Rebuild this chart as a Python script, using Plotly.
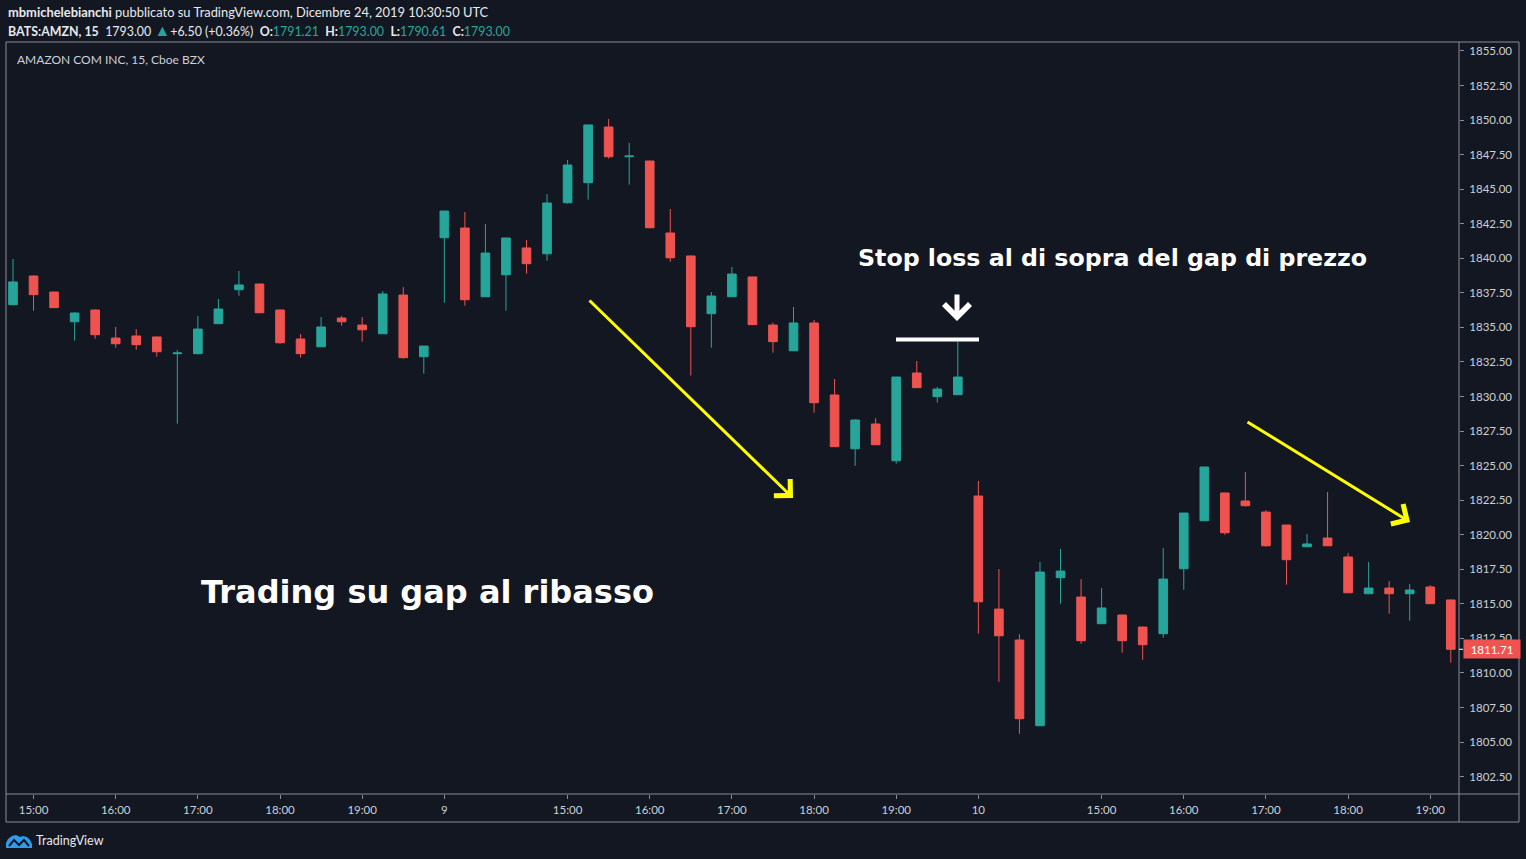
import plotly.graph_objects as go
import pandas as pd

# ---------------- data ----------------
day6 = pd.date_range("2019-12-06 14:45", "2019-12-06 19:45", freq="15min")
day9 = pd.date_range("2019-12-09 13:30", "2019-12-09 19:45", freq="15min")
day10 = pd.date_range("2019-12-10 13:30", "2019-12-10 19:15", freq="15min")
times = [t.strftime("%Y-%m-%d %H:%M") for t in list(day6) + list(day9) + list(day10)]

opens = [
    1836.64, 1838.72, 1837.56, 1835.41, 1836.26, 1834.23, 1834.38, 1834.31, 1833.10, 1833.10,
    1835.27, 1837.73, 1838.14, 1836.26, 1834.16, 1833.60, 1835.68, 1835.17, 1834.54, 1837.34,
    1832.88,
    1841.49, 1842.19, 1837.22, 1838.81, 1840.75, 1840.33, 1844.02, 1845.47, 1849.50, 1847.35,
    1847.04, 1841.83, 1840.17, 1835.99, 1837.22, 1838.65, 1835.17, 1833.31, 1835.32, 1830.11,
    1826.22, 1828.01, 1825.35, 1831.70, 1829.99, 1830.13,
    1822.80, 1814.62, 1812.38, 1806.18, 1816.89, 1815.49, 1813.56, 1814.19, 1813.32, 1812.84,
    1817.54, 1821.01, 1823.02, 1822.44, 1821.64, 1820.70, 1819.13, 1819.76, 1818.39, 1815.73,
    1816.14, 1815.73, 1816.22, 1815.28,
]
highs = [
    1839.95, 1838.75, 1837.58, 1836.10, 1836.28, 1835.03, 1834.88, 1834.33, 1833.36, 1835.82,
    1837.05, 1839.08, 1838.16, 1836.28, 1834.52, 1835.75, 1835.82, 1835.75, 1837.63, 1837.92,
    1833.65,
    1843.42, 1843.35, 1842.48, 1841.47, 1841.32, 1844.65, 1847.11, 1849.65, 1850.08, 1848.34,
    1847.06, 1843.57, 1840.19, 1837.56, 1839.37, 1838.67, 1835.34, 1836.48, 1835.54, 1831.27,
    1828.35, 1828.44, 1831.41, 1832.57, 1830.69, 1833.97,
    1823.89, 1817.52, 1812.81, 1818.02, 1818.97, 1816.79, 1816.14, 1814.21, 1813.34, 1819.04,
    1821.57, 1824.90, 1823.04, 1824.54, 1821.79, 1820.72, 1820.05, 1823.09, 1818.68, 1818.02,
    1816.65, 1816.43, 1816.36, 1815.30,
]
lows = [
    1836.60, 1836.21, 1836.40, 1834.04, 1834.18, 1833.53, 1833.39, 1832.88, 1828.03, 1833.05,
    1835.25, 1837.29, 1836.04, 1833.82, 1832.81, 1833.58, 1835.12, 1833.97, 1834.52, 1832.74,
    1831.65,
    1836.79, 1836.57, 1837.20, 1836.21, 1838.89, 1839.83, 1843.95, 1844.24, 1847.21, 1845.33,
    1842.19, 1839.75, 1831.51, 1833.53, 1837.20, 1835.18, 1833.17, 1833.29, 1828.83, 1826.35,
    1824.99, 1826.49, 1825.14, 1830.62, 1829.55, 1830.11,
    1812.84, 1809.36, 1805.60, 1806.16, 1815.01, 1812.11, 1813.54, 1811.46, 1810.95, 1812.55,
    1816.02, 1820.99, 1820.00, 1822.03, 1819.13, 1816.38, 1819.11, 1819.18, 1815.78, 1815.71,
    1814.28, 1813.78, 1814.99, 1810.74,
]
closes = [
    1838.29, 1837.37, 1836.43, 1836.04, 1834.47, 1833.82, 1833.75, 1833.24, 1833.15, 1834.88,
    1836.33, 1838.07, 1836.06, 1833.89, 1833.10, 1835.03, 1835.41, 1834.83, 1837.42, 1832.81,
    1833.65,
    1843.42, 1837.00, 1840.38, 1841.47, 1839.61, 1844.00, 1846.75, 1849.65, 1847.35, 1847.40,
    1842.21, 1840.04, 1835.05, 1837.27, 1838.86, 1835.20, 1833.97, 1835.32, 1829.55, 1826.37,
    1828.30, 1826.51, 1831.41, 1830.64, 1830.54, 1831.41,
    1815.15, 1812.69, 1806.69, 1817.30, 1817.37, 1812.33, 1814.70, 1812.33, 1812.04, 1816.79,
    1821.57, 1824.90, 1820.14, 1822.10, 1819.20, 1818.19, 1819.33, 1819.20, 1815.80, 1816.14,
    1815.73, 1816.00, 1815.01, 1811.71,
]

tick_times = [
    "2019-12-06 15:00", "2019-12-06 16:00", "2019-12-06 17:00", "2019-12-06 18:00", "2019-12-06 19:00",
    "2019-12-09 13:30", "2019-12-09 15:00", "2019-12-09 16:00", "2019-12-09 17:00", "2019-12-09 18:00",
    "2019-12-09 19:00", "2019-12-10 13:30", "2019-12-10 15:00", "2019-12-10 16:00", "2019-12-10 17:00",
    "2019-12-10 18:00", "2019-12-10 19:00",
]
tick_text = ["15:00", "16:00", "17:00", "18:00", "19:00", "9", "15:00", "16:00", "17:00", "18:00",
             "19:00", "10", "15:00", "16:00", "17:00", "18:00", "19:00"]

price_ticks = [1802.5 + 2.5 * k for k in range(22)]
last_price = 1811.71
stop_level = 1834.12

# ---------------- style ----------------
BG = "#131722"
UP = "#26a69a"
DOWN = "#ef5350"
BORDER = "#8a8d96"
TXT = "#cdd0d6"
FONT = "Lato"

W, H = 1526, 859
L, R, T, B = 6, 1459, 42, 794   # plot area in pixels


def px(x):
    return (x - L) / (R - L)


def py(y):
    return (B - y) / (B - T)


fig = go.Figure()
fig.add_trace(go.Candlestick(
    x=times, open=opens, high=highs, low=lows, close=closes,
    increasing=dict(line=dict(color=UP, width=1), fillcolor=UP),
    decreasing=dict(line=dict(color=DOWN, width=1), fillcolor=DOWN),
    whiskerwidth=0, showlegend=False,
))

shapes = [
    # outer box
    dict(type="rect", xref="paper", yref="paper", x0=px(6), x1=px(1519), y0=py(822), y1=py(42),
         line=dict(color=BORDER, width=1)),
    dict(type="line", xref="paper", yref="paper", x0=1, x1=1, y0=py(822), y1=1,
         line=dict(color=BORDER, width=1)),
    dict(type="line", xref="paper", yref="paper", x0=0, x1=px(1519), y0=0, y1=0,
         line=dict(color=BORDER, width=1)),
    # stop loss line
    dict(type="line", xref="paper", yref="y", x0=px(896), x1=px(979), y0=stop_level, y1=stop_level,
         line=dict(color="white", width=4)),
    # last price tick
    dict(type="line", xref="paper", yref="y", x0=1, x1=px(1463), y0=last_price, y1=last_price,
         line=dict(color="white", width=1)),
]

# TradingView logo (cloud + zigzag)
cloud = [(6, 848), (6, 843), (8, 839), (12, 836), (16, 835), (20, 837), (23, 836), (27, 837),
         (30, 840), (32, 844), (32, 848)]
path = "M " + " L ".join(f"{px(a):.5f},{py(b):.5f}" for a, b in cloud) + " Z"
shapes.append(dict(type="path", xref="paper", yref="paper", path=path,
                   fillcolor="#2e9df0", line=dict(width=0)))
zig = [(9, 846), (14, 840), (19, 845), (24, 840), (29, 846)]
zpath = "M " + " L ".join(f"{px(a):.5f},{py(b):.5f}" for a, b in zig)
shapes.append(dict(type="path", xref="paper", yref="paper", path=zpath,
                   line=dict(color=BG, width=2)))

G = UP
annotations = [
    dict(xref="paper", yref="paper", x=px(6), y=py(12), xanchor="left", yanchor="middle",
         showarrow=False, font=dict(family=FONT, size=12.9, color="#e8e9ec"),
         text="<b>mbmichelebianchi</b> pubblicato su TradingView.com, Dicembre 24, 2019 10:30:50 UTC"),
    dict(xref="paper", yref="paper", x=px(6), y=py(29), xanchor="left", yanchor="middle",
         showarrow=False, font=dict(family=FONT, size=12.4, color="#e8e9ec"),
         text=(f"<b>BATS:AMZN, 15</b>  1793.00 <span style='color:{G};font-size:16px'>▲</span>+6.50 (+0.36%)  "
               f"<b>O:</b><span style='color:{G}'>1791.21</span>  <b>H:</b><span style='color:{G}'>1793.00</span>  "
               f"<b>L:</b><span style='color:{G}'>1790.61</span>  <b>C:</b><span style='color:{G}'>1793.00</span>")),
    dict(xref="paper", yref="paper", x=px(15), y=py(60), xanchor="left", yanchor="middle",
         showarrow=False, font=dict(family=FONT, size=12, color=TXT),
         text="AMAZON COM INC, 15, Cboe BZX"),
    dict(xref="paper", yref="paper", x=px(199), y=py(592), xanchor="left", yanchor="middle",
         showarrow=False, font=dict(family="DejaVu Sans", size=32, color="white"),
         text="<b>Trading su gap al ribasso</b>"),
    dict(xref="paper", yref="paper", x=px(856), y=py(258), xanchor="left", yanchor="middle",
         showarrow=False, font=dict(family="DejaVu Sans", size=23.7, color="white"),
         text="<b>Stop loss al di sopra del gap di prezzo</b>"),
    # white down arrow
    dict(xref="paper", yref="paper", x=px(957), y=py(321), ax=0, ay=-28, text="",
         showarrow=True, arrowhead=4, arrowsize=1, arrowwidth=5, arrowcolor="white"),
    # yellow arrows
    dict(xref="paper", yref="paper", x=px(793), y=py(498), ax=-205, ay=-199, text="",
         showarrow=True, arrowhead=4, arrowsize=1.5, arrowwidth=3, arrowcolor="#ffff00"),
    dict(xref="paper", yref="paper", x=px(1410), y=py(522), ax=-164, ay=-101, text="",
         showarrow=True, arrowhead=4, arrowsize=1.5, arrowwidth=3, arrowcolor="#ffff00"),
    # last price label
    dict(xref="paper", yref="y", x=px(1463), y=last_price, xanchor="left", yanchor="middle",
         showarrow=False, text=f"{last_price:.2f}", width=56, height=18, borderpad=0,
         bgcolor=DOWN, font=dict(family=FONT, size=11.5, color="white")),
    # logo text
    dict(xref="paper", yref="paper", x=px(34), y=py(840), xanchor="left", yanchor="middle",
         showarrow=False, font=dict(family=FONT, size=12.5, color="#e8e9ec"), text="TradingView"),
]

fig.update_layout(
    width=W, height=H,
    paper_bgcolor=BG, plot_bgcolor=BG,
    margin=dict(l=L, r=W - R, t=T, b=H - B, pad=0),
    boxgap=0.4,
    shapes=shapes, annotations=annotations,
    showlegend=False,
    font=dict(family=FONT, color=TXT, size=11.5),
    xaxis=dict(type="category", categoryorder="array", categoryarray=times,
               range=[-0.341, 70.40], rangeslider=dict(visible=False),
               tickmode="array", tickvals=tick_times, ticktext=tick_text,
               ticks="outside", ticklen=4, tickcolor=BORDER, showgrid=False,
               zeroline=False, showline=False, tickfont=dict(size=11.5, color=TXT),
               ticklabelstandoff=1),
    yaxis=dict(side="right", range=[1801.24, 1855.65], tickmode="array",
               tickvals=price_ticks, ticktext=[f"{v:.2f}" for v in price_ticks],
               ticks="outside", ticklen=4, tickcolor=BORDER, showgrid=False,
               zeroline=False, showline=False, tickfont=dict(size=11.5, color=TXT),
               ticklabelstandoff=3),
)

fig.write_html(
    "out.html",
    config={"displayModeBar": False},
    post_script="document.body.style.margin='0';document.body.style.padding='0';"
                "document.body.style.background='#131722';document.body.style.overflow='hidden';",
)
